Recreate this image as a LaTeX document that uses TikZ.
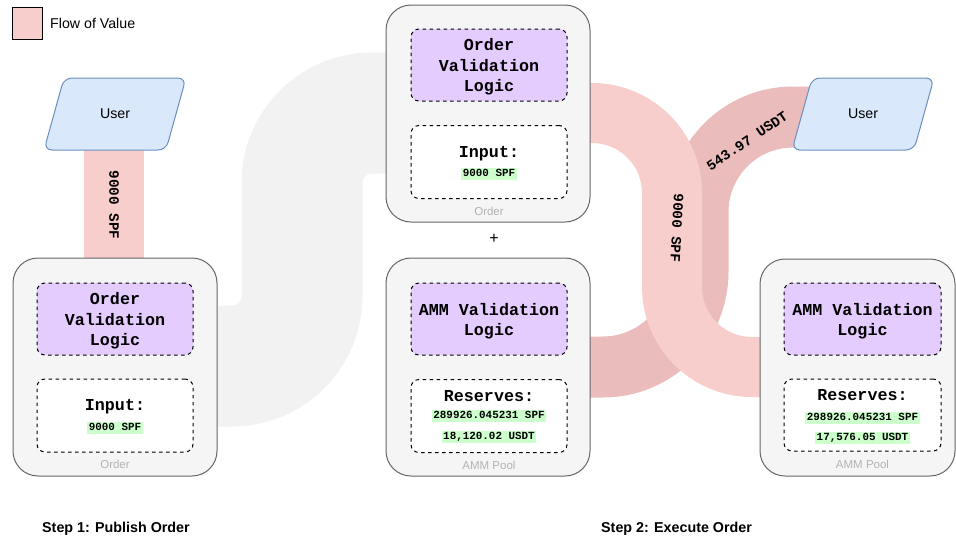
\documentclass[tikz,border=0pt]{standalone}
\usepackage{fontspec}
\setmainfont{Liberation Sans}
\setmonofont{Liberation Mono}
\definecolor{boxfill}{HTML}{F5F5F5}
\definecolor{boxline}{HTML}{666666}
\definecolor{purp}{HTML}{E5CCFF}
\definecolor{userfill}{HTML}{DAE8FC}
\definecolor{userline}{HTML}{6C8EBF}
\definecolor{flowpink}{HTML}{F8CECC}
\definecolor{flowdark}{HTML}{EABCBC}
\definecolor{flowgray}{HTML}{F2F2F2}
\definecolor{hl}{HTML}{CCFFCC}
\definecolor{lbl}{HTML}{B3B3B3}
\newcommand\monoL{\fontsize{16.7}{20.5}\selectfont\ttfamily\bfseries}
\newcommand\monoM{\fontsize{14.3}{16}\selectfont\ttfamily\bfseries}
\newcommand\monoS{\fontsize{10.9}{12}\selectfont\ttfamily\bfseries}
\begin{document}
\begin{tikzpicture}[x=1pt,y=-1pt,
  outerbox/.style={draw=boxline, fill=boxfill, rounded corners=25pt, line width=1pt, inner sep=0pt},
  logicbox/.style={draw=black, fill=purp, dash pattern=on 3.5pt off 3.5pt, rounded corners=8pt, line width=1pt, minimum width=156pt, minimum height=72pt, inner sep=0pt},
  logictext/.style={align=center, font=\monoL, inner sep=0pt},
  databox/.style={draw=black, fill=white, dash pattern=on 3.5pt off 3.5pt, rounded corners=8pt, line width=1pt, minimum width=156pt, minimum height=73pt, inner sep=0pt},
  headtext/.style={font=\monoL, inner sep=0pt},
  hltext/.style={fill=hl, inner xsep=1.5pt, inner ysep=0pt, text height=8.5pt, text depth=3pt, font=\monoS},
  boxlabel/.style={text=lbl, font=\fontsize{11.5}{13}\selectfont, inner sep=0pt},
  bandlabel/.style={font=\monoM, inner sep=0pt},
  userpara/.style={draw=userline, fill=userfill, line width=1pt, rounded corners=8pt},
  usertext/.style={font=\fontsize{14.2}{16}\selectfont, inner sep=0pt},
  steptext/.style={font=\fontsize{14.3}{16}\selectfont\bfseries, anchor=west, inner sep=0pt}
]
\useasboundingbox (0,0) rectangle (956,539);

% legend
\node[draw=black, fill=flowpink, line width=1pt, minimum width=30pt, minimum height=32pt, inner sep=0pt] (leg) at (27,23) {};
\node[anchor=west, font=\fontsize{14.2}{16}\selectfont, inner sep=0pt] (legt) at (50,23) {Flow of Value};

% flows (under the boxes)
\draw[flowgray, line width=121pt, rounded corners=70pt] (205,366) -- (302,366) -- (302,113) -- (395,113);
\fill[flowpink] (84,140) rectangle (144,262);
\draw[flowdark, line width=61pt, rounded corners=95pt] (580,367) -- (698,367) -- (698,117) -- (830,117);
\draw[flowpink, line width=60pt, rounded corners=80pt] (580,113) -- (672,113) -- (672,367) -- (770,367);

% users
\draw[userpara] (64,78) -- (186,78) -- (166,150) -- (44,150) -- cycle;
\node[usertext] (u1) at (115,114) {User};
\draw[userpara] (812,78) -- (934,78) -- (914,150) -- (792,150) -- cycle;
\node[usertext] (u2) at (863,114) {User};

% left order box
\node[outerbox, minimum width=204pt, minimum height=218pt] (ob1) at (115,367) {};
\node[logicbox] (ol1) at (115,319) {};
\node[logictext] (olt1) at (115,321) {Order\\Validation\\Logic};
\node[databox] (od1) at (115,415.5) {};
\node[headtext] (oh1) at (115,407) {Input:};
\node[hltext] (ov1) at (115,428) {9000 SPF};
\node[boxlabel] (on1) at (115,464) {Order};

% middle order box
\node[outerbox, minimum width=204pt, minimum height=217pt] (ob2) at (488,113.5) {};
\node[logicbox] (ol2) at (489,65) {};
\node[logictext] (olt2) at (489,67) {Order\\Validation\\Logic};
\node[databox] (od2) at (489,162) {};
\node[headtext] (oh2) at (489,154) {Input:};
\node[hltext] (ov2) at (489,174) {9000 SPF};
\node[boxlabel] (on2) at (489,211) {Order};

\node[font=\fontsize{16}{18}\selectfont, inner sep=0pt] (plus) at (494,239) {+};

% middle amm box
\node[outerbox, minimum width=204pt, minimum height=218pt] (ab1) at (488,367) {};
\node[logicbox] (al1) at (489,319) {};
\node[logictext] (alt1) at (489,321) {AMM Validation\\Logic};
\node[databox] (ad1) at (489,416) {};
\node[headtext] (ah1) at (489,396) {Reserves:};
\node[hltext] (av1) at (489,416) {289926.045231 SPF};
\node[hltext] (aw1) at (489,437) {18,120.02 USDT};
\node[boxlabel] (an1) at (489,465) {AMM Pool};

% right amm box
\node[outerbox, minimum width=195pt, minimum height=217pt] (ab2) at (857.5,367.5) {};
\node[logicbox, minimum width=157pt] (al2) at (862.5,319) {};
\node[logictext] (alt2) at (862.5,321) {AMM Validation\\Logic};
\node[databox, minimum width=157pt, minimum height=72pt] (ad2) at (862.5,415) {};
\node[headtext] (ah2) at (862.5,395) {Reserves:};
\node[hltext] (av2) at (862.5,418) {298926.045231 SPF};
\node[hltext] (aw2) at (862.5,438) {17,576.05 USDT};
\node[boxlabel] (an2) at (862.5,464) {AMM Pool};

% band labels
\node[bandlabel, rotate=-90] (bl1) at (114,205) {9000 SPF};
\node[bandlabel, rotate=-93] (bl2) at (677,228) {9000 SPF};
\node[bandlabel, rotate=34] (bl3) at (747,141) {543.97 USDT};

% steps
\node[steptext] (s1) at (42,529) {Step 1: Publish Order};
\node[steptext] (s2) at (601,529) {Step 2: Execute Order};
\end{tikzpicture}
\end{document}
